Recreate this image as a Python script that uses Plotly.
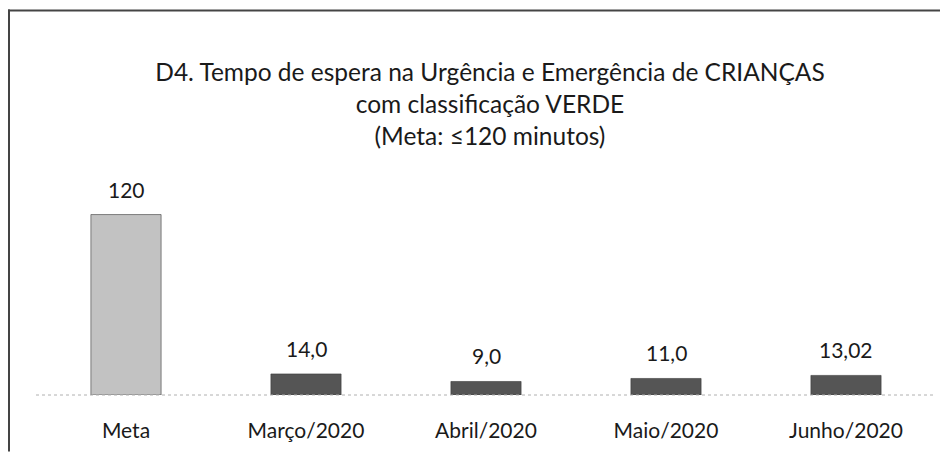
import plotly.graph_objects as go

categories = ["Meta", "Março/2020", "Abril/2020", "Maio/2020", "Junho/2020"]
values = [120, 14.0, 9.0, 11.0, 13.02]
labels = ["120", "14,0", "9,0", "11,0", "13,02"]
colors = ["#c2c2c2", "#555555", "#555555", "#555555", "#555555"]

OFF = 8  # page offset of the figure in the browser window
W, H = 948 - OFF, 454 - OFF
L, R, T, B = 36 - OFF, 12, 170 - OFF, 57
pw, ph = W - L - R, H - T - B
scale = 1.517  # px per unit

def px_x(p):
    return (p - OFF - L) / pw

def px_y(p):
    return (H - B - (p - OFF)) / ph

fig = go.Figure(go.Bar(
    x=categories, y=values,
    marker=dict(color=colors, line=dict(color="#3a3a3a", width=0.6)),
    width=0.39,
))

for c, v, t in zip(categories, values, labels):
    fig.add_annotation(x=c, y=v, text=t, showarrow=False, yanchor="bottom", yshift=11,
                       font=dict(size=21, color="#1a1a1a"))

title_x = (490 - OFF) / W
fig.update_layout(
    width=W, height=H,
    margin=dict(l=L, r=R, t=T, b=B),
    paper_bgcolor="white", plot_bgcolor="white",
    font=dict(family="Lato, Liberation Sans, sans-serif", color="#1a1a1a"),
    title=dict(
        text="D4. Tempo de espera na Urgência e Emergência de CRIANÇAS<br>com classificação VERDE<br>(Meta: ≤120 minutos)",
        x=title_x, xanchor="center", y=1 - (81 - OFF) / H, yanchor="top",
        font=dict(size=24.5, color="#1a1a1a"),
    ),
    showlegend=False,
    xaxis=dict(showgrid=False, showline=False, ticks="", tickfont=dict(size=21), ticklabelstandoff=21),
    yaxis=dict(visible=False, range=[0, ph / scale], showgrid=False, zeroline=False),
    shapes=[
        dict(type="line", xref="paper", yref="paper", x0=0, x1=1, y0=0, y1=0,
             line=dict(color="#b0b0b0", width=1, dash="dot")),
        dict(type="line", xref="paper", yref="paper", x0=px_x(8), x1=px_x(948), y0=px_y(9), y1=px_y(9),
             line=dict(color="#444444", width=2)),
        dict(type="line", xref="paper", yref="paper", x0=px_x(9), x1=px_x(9), y0=px_y(8), y1=px_y(454),
             line=dict(color="#444444", width=2)),
    ],
)

fig.write_html("out.html")
